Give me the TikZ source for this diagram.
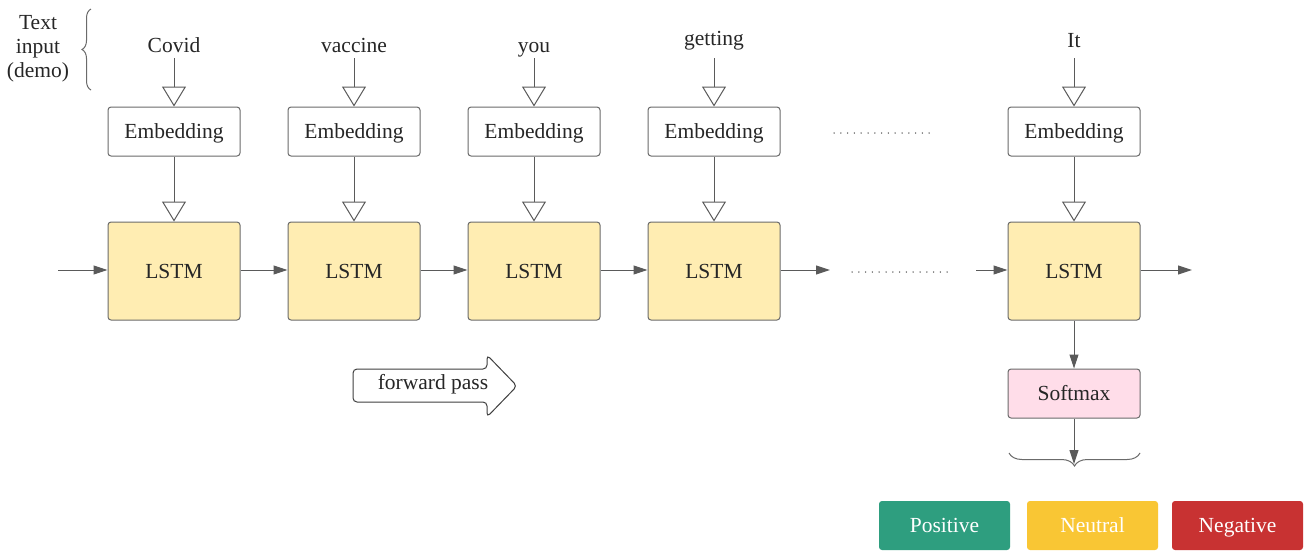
\documentclass[tikz,border=0pt]{standalone}
\usepackage{fontspec}
\setmainfont{Liberation Serif}
\usetikzlibrary{arrows.meta,decorations.pathreplacing}
\definecolor{edge}{HTML}{6B6B6B}
\definecolor{arr}{HTML}{5A5A5A}
\definecolor{lstmfill}{HTML}{FFEDB2}
\definecolor{softfill}{HTML}{FFDDE9}
\definecolor{posc}{HTML}{2E9E7F}
\definecolor{neuc}{HTML}{F9C634}
\definecolor{negc}{HTML}{C83232}
\begin{document}
\begin{tikzpicture}[x=1pt,y=-1pt,
  font=\fontsize{21.5}{24}\selectfont,
  box/.style={draw=edge,line width=1pt,rounded corners=3pt,minimum width=132pt,inner sep=0pt,text=black!85,text height=14.2pt,text depth=0pt},
  embbox/.style={box,minimum height=49pt,fill=white},
  lstmbox/.style={box,minimum height=98pt,fill=lstmfill},
  softbox/.style={box,minimum height=49pt,fill=softfill},
  outbox/.style={rounded corners=3pt,minimum width=131pt,minimum height=49pt,inner sep=0pt,text=white,text height=14.2pt,text depth=0pt},
  word/.style={text=black!85,anchor=base},
  openarr/.style={draw=arr,line width=1pt,-{Triangle[open,length=20pt,width=24pt]}},
  flow/.style={draw=arr,line width=1pt,-{Triangle[length=14pt,width=9pt]}},
  dotline/.style={draw=black!70,line width=1.5pt,line cap=round,dash pattern=on 0pt off 6.8pt},
  brc/.style={draw=edge,line width=1pt,decorate},
]
\useasboundingbox[fill=white] (0,0) rectangle (1306,550);

% text input label and brace
\node[text=black!85,align=center] (lbl) at (38,49) {Text\\input\\(demo)};
\draw[brc,decoration={brace,amplitude=9pt}] (91,90) -- (91,9);

% words
\node[word] (w1) at (174,52) {Covid};
\node[word] (w2) at (354,52) {vaccine};
\node[word] (w3) at (534,52) {you};
\node[word] (w4) at (714,45) {getting};
\node[word] (w5) at (1074,47) {It};
\coordinate (t1) at (174,58);
\coordinate (t2) at (354,58);
\coordinate (t3) at (534,58);
\coordinate (t4) at (714,58);
\coordinate (t5) at (1074,58);

% embedding
\node[embbox] (e1) at (174,131.5) {Embedding};
\node[embbox] (e2) at (354,131.5) {Embedding};
\node[embbox] (e3) at (534,131.5) {Embedding};
\node[embbox] (e4) at (714,131.5) {Embedding};
\node[embbox] (e5) at (1074,131.5) {Embedding};

% lstm
\node[lstmbox] (l1) at (174,271) {LSTM};
\node[lstmbox] (l2) at (354,271) {LSTM};
\node[lstmbox] (l3) at (534,271) {LSTM};
\node[lstmbox] (l4) at (714,271) {LSTM};
\node[lstmbox] (l5) at (1074,271) {LSTM};

% softmax and outputs
\node[softbox] (sm) at (1074,393.5) {Softmax};
\node[outbox,fill=posc] (pos) at (944.5,525.5) {Positive};
\node[outbox,fill=neuc] (neu) at (1092.5,525.5) {Neutral};
\node[outbox,fill=negc] (neg) at (1237.5,525.5) {Negative};

% vertical open arrows
\foreach \i in {1,...,5}{
  \draw[openarr] (t\i) -- (e\i.north);
  \draw[openarr] (e\i.south) -- (l\i.north);
}

% horizontal flow
\coordinate (in0) at (58,270);
\coordinate (out4) at (830,270);
\coordinate (in5) at (976,270);
\coordinate (out5) at (1192,270);
\draw[flow] (in0) -- (l1.west |- in0);
\draw[flow] (l1.east |- in0) -- (l2.west |- in0);
\draw[flow] (l2.east |- in0) -- (l3.west |- in0);
\draw[flow] (l3.east |- in0) -- (l4.west |- in0);
\draw[flow] (l4.east |- in0) -- (out4);
\draw[flow] (in5) -- (l5.west |- in0);
\draw[flow] (l5.east |- in0) -- (out5);

% dots
\coordinate (da) at (834,133);
\coordinate (db) at (932,133);
\coordinate (dc) at (852,272);
\coordinate (dd) at (948,272);
\draw[dotline] (da) -- (db);
\draw[dotline] (dc) -- (dd);

% softmax connections
\draw[flow] (l5.south) -- (sm.north);
\coordinate (btip) at (1074,464);
\draw[flow] (sm.south) -- (btip);
\draw[brc,decoration={brace,amplitude=13pt}] (1140,453) -- (1009,453);

% forward pass arrow
\draw[draw=black!75,line width=1pt,fill=white,rounded corners=4pt]
  (353,369) -- (487,369) -- (487,355) -- (517,386) -- (487,417) -- (487,402) -- (353,402) -- cycle;
\node[text=black!85] (fp) at (433,384) {forward pass};
\end{tikzpicture}
\end{document}
